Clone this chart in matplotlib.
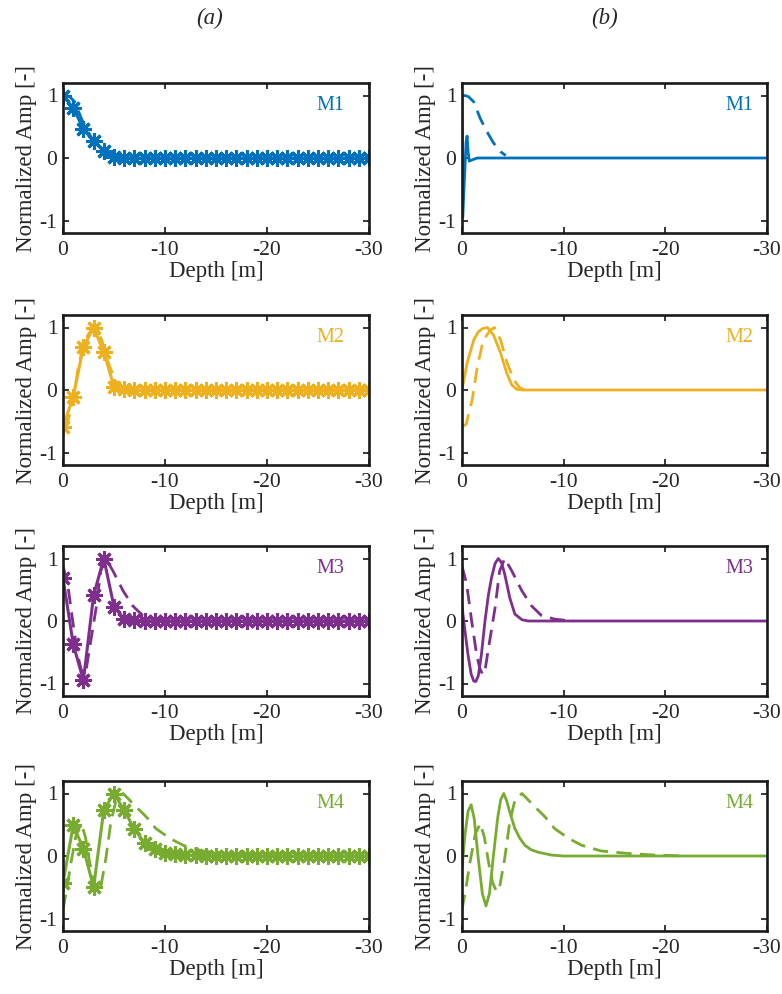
import numpy as np
import matplotlib
matplotlib.use("Agg")
import matplotlib.pyplot as plt

plt.rcParams['font.family'] = ['Liberation Serif', 'DejaVu Serif']
plt.rcParams['axes.unicode_minus'] = False

# mode names and colours (MATLAB default order)
modes = ["M1", "M2", "M3", "M4"]
colors = ["#0072BD", "#EDB120", "#7E2F8E", "#77AC30"]

# (a) sampled mode shapes, one value per metre from 0 to 30 m
depth_a = np.arange(0, 31)
amp_a = [
    [1.0, 0.80, 0.47, 0.27, 0.11, 0.02] + [0.0] * 25,
    [-0.59, -0.11, 0.69, 1.0, 0.61, 0.05, 0.01] + [0.0] * 24,
    [0.69, -0.37, -0.95, 0.41, 1.0, 0.23, 0.03, 0.01] + [0.0] * 23,
    [-0.43, 0.49, 0.12, -0.50, 0.74, 1.0, 0.73, 0.43, 0.21, 0.11, 0.05,
     0.03, 0.015, 0.01] + [0.0] * 17,
]

# reference mode shapes (dashed, shown in both columns)
ref_depth = [
    [0, 0.3, 0.65, 1.15, 1.8, 2.46, 3.1, 3.8, 4.3],
    [0, 0.4, 1.0, 1.5, 2.1, 2.8, 3.2, 3.8, 4.4, 5.1, 5.7, 6.1],
    [0, 0.46, 0.95, 1.44, 1.75, 2.05, 2.3, 2.6, 3.25, 3.7, 4.2, 4.9, 5.9,
     6.85, 7.8, 9.1, 10.5, 11.0],
    [0, 0.4, 0.8, 1.3, 1.8, 2.2, 2.6, 3.0, 3.4, 3.7, 4.2, 4.7, 5.2, 5.9,
     6.85, 8.2, 9.1, 10.5, 11.8, 13.7, 16.4, 19.0, 22.0],
]
ref_amp = [
    [1.0, 1.0, 0.98, 0.9, 0.63, 0.42, 0.24, 0.1, 0.04],
    [-0.59, -0.55, -0.16, 0.37, 0.8, 0.96, 1.0, 0.8, 0.45, 0.16, 0.03, 0.01],
    [0.88, 0.59, 0.0, -0.54, -0.76, -0.86, -0.75, -0.44, 0.21, 0.8, 1.0,
     0.8, 0.48, 0.24, 0.09, 0.03, 0.005, 0.0],
    [-0.86, -0.5, -0.09, 0.35, 0.52, 0.3, -0.09, -0.42, -0.57, -0.5, -0.04,
     0.55, 0.89, 1.0, 0.84, 0.62, 0.44, 0.28, 0.17, 0.08, 0.04, 0.015, 0.0],
]

# (b) continuous mode shapes (solid)
depth_b = [
    [0, 0.07, 0.25, 0.4, 0.5, 0.6, 0.72, 1.0, 1.5, 30],
    [0, 0.5, 1.15, 1.6, 2.0, 2.5, 3.1, 3.8, 4.4, 4.9, 5.4, 6.0, 30],
    [0, 0.3, 0.6, 0.9, 1.15, 1.35, 1.6, 1.9, 2.26, 2.6, 2.9, 3.25, 3.57,
     3.9, 4.2, 4.7, 5.2, 5.9, 6.5, 30],
    [0, 0.3, 0.6, 0.9, 1.2, 1.6, 2.0, 2.36, 2.7, 3.1, 3.5, 3.8, 4.1, 4.4,
     4.7, 5.2, 5.7, 6.2, 6.8, 7.5, 8.8, 10.0, 30],
]
amp_b = [
    [1.0, -0.95, -0.3, 0.25, 0.35, 0.1, -0.05, -0.03, 0.0, 0.0],
    [0.0, 0.43, 0.8, 0.93, 0.98, 1.0, 0.88, 0.59, 0.27, 0.08, 0.01, 0.0, 0.0],
    [0.24, -0.17, -0.55, -0.85, -0.96, -0.97, -0.88, -0.55, 0.0, 0.42, 0.69,
     0.92, 1.0, 0.93, 0.75, 0.37, 0.11, 0.02, 0.0, 0.0],
    [-0.2, 0.35, 0.72, 0.82, 0.6, -0.04, -0.6, -0.80, -0.6, 0.02, 0.6, 0.9,
     1.0, 0.88, 0.7, 0.44, 0.28, 0.17, 0.1, 0.06, 0.015, 0.0, 0.0],
]

xticks = [0, -10, -20, -30]
yticks = [-1, 0, 1]

fig = plt.figure(figsize=(7.82, 9.94), dpi=100)

lefts = [63 / 782, 462 / 782]
widths = [306 / 782, 305 / 782]
bottoms = [1 - 233 / 994, 1 - 465 / 994, 1 - 696 / 994, 1 - 931 / 994]
height = 150 / 994
label_x = [0.92, 0.954]
dash = (0, (5.5, 3.0))


def style_axes(ax):
    ax.set_xlim(0, -30)
    ax.set_ylim(-1.2, 1.2)
    ax.set_xticks(xticks)
    ax.set_yticks(yticks)
    ax.tick_params(direction='in', top=True, right=True, length=4.5, width=1.3,
                   labelsize=15.5, colors='#262626', pad=6)
    ax.tick_params(axis='y', pad=4)
    for s in ax.spines.values():
        s.set_linewidth(1.9)
        s.set_color('#1a1a1a')
    ax.set_xlabel("Depth [m]", fontsize=16.5, color='#262626')
    ax.set_ylabel("Normalized Amp [-]", fontsize=16.5, color='#262626')
    ax.xaxis.set_label_coords(0.5, -0.185)
    ax.yaxis.set_label_coords(-0.085, 0.5)


for i in range(4):
    c = colors[i]
    # column (a)
    ax = fig.add_axes([lefts[0], bottoms[i], widths[0], height])
    ax.plot(-np.array(ref_depth[i]), ref_amp[i], color=c, lw=2.0, ls=dash)
    ax.plot(-depth_a, amp_a[i], color=c, lw=2.2, marker=(8, 2, 0),
            markersize=12, markeredgewidth=2.2)
    style_axes(ax)
    ax.text(label_x[0], 0.85, modes[i], transform=ax.transAxes, color=c,
            fontsize=14.5, ha='right', va='center')

    # column (b)
    ax = fig.add_axes([lefts[1], bottoms[i], widths[1], height])
    ax.plot(-np.array(ref_depth[i]), ref_amp[i], color=c, lw=2.0, ls=dash)
    ax.plot(-np.array(depth_b[i]), amp_b[i], color=c, lw=2.0)
    style_axes(ax)
    ax.text(label_x[1], 0.85, modes[i], transform=ax.transAxes, color=c,
            fontsize=14.5, ha='right', va='center')

fig.text(210 / 782, 1 - 18 / 994, "(a)", fontsize=16.5, style='italic',
         ha='center', va='center', color='#262626')
fig.text(605 / 782, 1 - 18 / 994, "(b)", fontsize=16.5, style='italic',
         ha='center', va='center', color='#262626')

fig.savefig("out.png", dpi=100)
